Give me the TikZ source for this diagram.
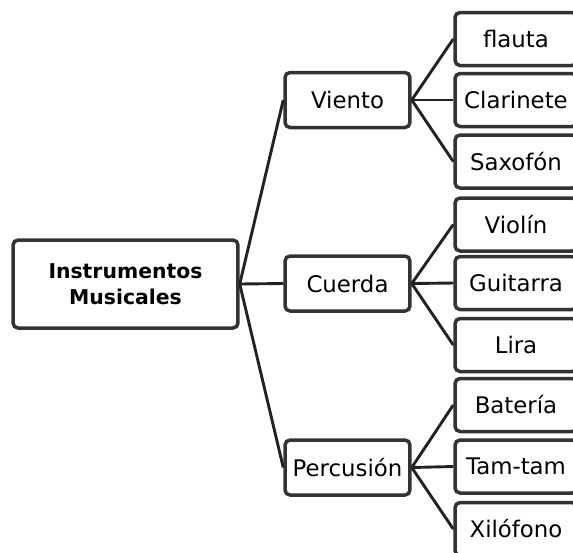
\documentclass[tikz,border=0pt]{standalone}
\usepackage{fontspec}
\setmainfont{DejaVu Sans}
\definecolor{borde}{HTML}{333333}
\definecolor{rama}{HTML}{222222}
\tikzset{
  caja/.style={draw=borde, line width=0.07cm, rounded corners=0.1cm, fill=white,
    inner sep=0pt, font=\fontsize{13}{15}\selectfont},
  raiz/.style={caja, minimum width=4.5cm, minimum height=1.76cm, align=center,
    font=\fontsize{11.6}{15}\selectfont\bfseries},
  grupo/.style={caja, minimum width=2.5cm, minimum height=1.1cm},
  hoja/.style={caja, minimum width=2.44cm, minimum height=1.06cm},
  rama/.style={draw=rama, line width=0.058cm}
}
\begin{document}
\begin{tikzpicture}[x=0.02cm,y=-0.02cm]
\useasboundingbox (0,0) rectangle (573,552);

\node[raiz] (instr) at (125.5,284) {Instrumentos\\Musicales};

\node[grupo] (viento) at (347.5,100) {Viento};
\node[grupo] (cuerda) at (347.5,283.5) {Cuerda};
\node[grupo] (percu) at (347.5,467.5) {Percusión};

\node[hoja] (flauta) at (516,39) {flauta};
\node[hoja] (clari) at (516,100) {Clarinete};
\node[hoja] (saxo) at (516,161.5) {Saxofón};
\node[hoja] (violin) at (516,224.5) {Violín};
\node[hoja] (guit) at (516,283) {Guitarra};
\node[hoja] (lira) at (516,345) {Lira};
\node[hoja] (bat) at (516,405) {Batería};
\node[hoja] (tam) at (516,466.5) {Tam-tam};
\node[hoja] (xilo) at (516,529) {Xilófono};

\draw[rama] (instr.east) -- (viento.west);
\draw[rama] (instr.east) -- (cuerda.west);
\draw[rama] (instr.east) -- (percu.west);

\draw[rama] (viento.east) -- (flauta.west);
\draw[rama] (viento.east) -- (clari.west);
\draw[rama] (viento.east) -- (saxo.west);

\draw[rama] (cuerda.east) -- (violin.west);
\draw[rama] (cuerda.east) -- (guit.west);
\draw[rama] (cuerda.east) -- (lira.west);

\draw[rama] (percu.east) -- (bat.west);
\draw[rama] (percu.east) -- (tam.west);
\draw[rama] (percu.east) -- (xilo.west);
\end{tikzpicture}
\end{document}
